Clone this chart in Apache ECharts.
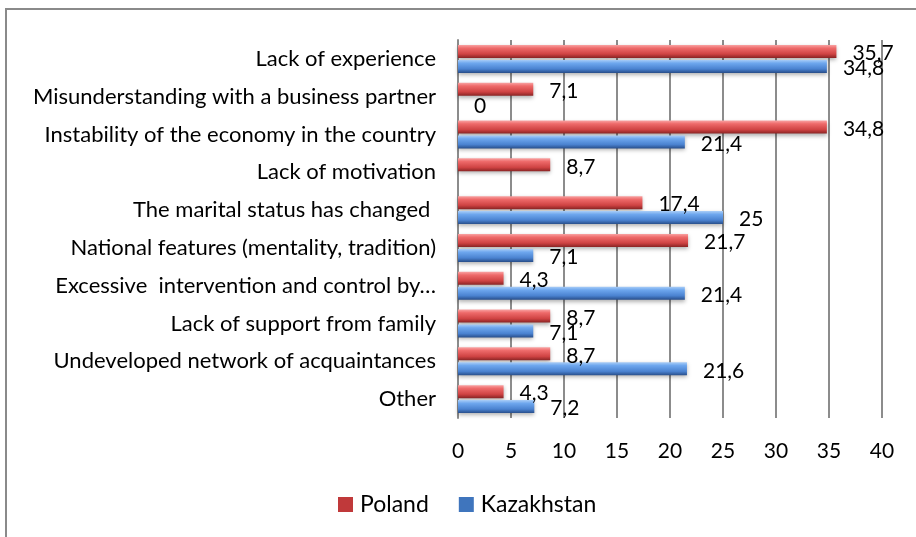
<!DOCTYPE html>
<html>
<head>
<meta charset="utf-8">
<script src="https://cdn.jsdelivr.net/npm/echarts@6/dist/echarts.min.js"></script>
<style>html,body{margin:0;padding:0;background:#fff;}#c{width:916px;height:537px;}</style>
</head>
<body>
<div id="c"></div>
<script>
const categories = [
  "Lack of experience",
  "Misunderstanding with a business partner",
  "Instability of the economy in the country",
  "Lack of motivation",
  "The marital status has changed ",
  "National features (mentality, tradition)",
  "Excessive  intervention and control by…",
  "Lack of support from family",
  "Undeveloped network of acquaintances",
  "Other"
];
const poland = [35.7, 7.1, 34.8, 8.7, 17.4, 21.7, 4.3, 8.7, 8.7, 4.3];
const kazakhstan = [34.8, 0, 21.4, null, 25, 7.1, 21.4, 7.1, 21.6, 7.2];
const xTicks = [0, 5, 10, 15, 20, 25, 30, 35, 40];

const FONT = 'Lato';
const chart = echarts.init(document.getElementById('c'), null, {renderer: 'canvas'});

function grad(c1, c2, c3, c4) {
  return new echarts.graphic.LinearGradient(0, 0, 0, 1, [
    {offset: 0, color: c1},
    {offset: 0.25, color: c2},
    {offset: 0.7, color: c3},
    {offset: 1, color: c4}
  ]);
}
const redFill = grad('#f9a3a3', '#ee6a6a', '#cf4343', '#8a2424');
const blueFill = grad('#a9cdf7', '#6ea7ee', '#4a82d0', '#284e8a');

const labelCfg = {
  show: true,
  position: 'right',
  distance: 16,
  offset: [0, 2],
  fontFamily: FONT,
  fontSize: 21,
  color: '#000',
  formatter: p => (p.value === null || p.value === undefined) ? '' : String(p.value).replace('.', ',')
};

chart.setOption({
  animation: false,
  backgroundColor: '#fff',
  graphic: [{
    type: 'rect',
    shape: {x: 6, y: 9, width: 1000, height: 1000},
    style: {fill: 'none', stroke: '#8a8a8a', lineWidth: 2},
    silent: true
  }],
  grid: {left: 458, right: 34, top: 40, bottom: 119, containLabel: false},
  legend: {
    bottom: 16,
    left: 333,
    itemWidth: 15,
    itemHeight: 15,
    itemGap: 30,
    itemStyle: {borderWidth: 0},
    icon: 'rect',
    textStyle: {fontFamily: FONT, fontSize: 23, color: '#000', padding: [0, 0, 0, 2]},
    data: [
      {name: 'Poland', itemStyle: {color: '#c0393a'}},
      {name: 'Kazakhstan', itemStyle: {color: '#3f75bd'}}
    ]
  },
  xAxis: {
    type: 'value',
    min: 0,
    max: 40,
    interval: 5,
    axisLine: {show: false},
    axisTick: {show: false},
    splitLine: {show: true, lineStyle: {color: '#8c8c8c', width: 2}},
    axisLabel: {
      fontFamily: FONT, fontSize: 21, color: '#000', margin: 23,
      formatter: v => xTicks.includes(v) ? String(v) : ''
    }
  },
  yAxis: {
    type: 'category',
    inverse: true,
    data: categories,
    axisLine: {show: true, lineStyle: {color: '#8c8c8c', width: 2}},
    axisTick: {show: false},
    axisLabel: {fontFamily: FONT, fontSize: 22, color: '#000', margin: 22}
  },
  series: [
    {
      name: 'Poland',
      type: 'bar',
      data: poland,
      barWidth: 13,
      barGap: '15%',
      itemStyle: {color: redFill, shadowColor: 'rgba(0,0,0,0.3)', shadowBlur: 4, shadowOffsetY: 2},
      label: labelCfg
    },
    {
      name: 'Kazakhstan',
      type: 'bar',
      data: kazakhstan,
      barWidth: 13,
      barGap: '15%',
      itemStyle: {color: blueFill, shadowColor: 'rgba(0,0,0,0.3)', shadowBlur: 4, shadowOffsetY: 2},
      label: labelCfg
    }
  ]
});
</script>
</body>
</html>
